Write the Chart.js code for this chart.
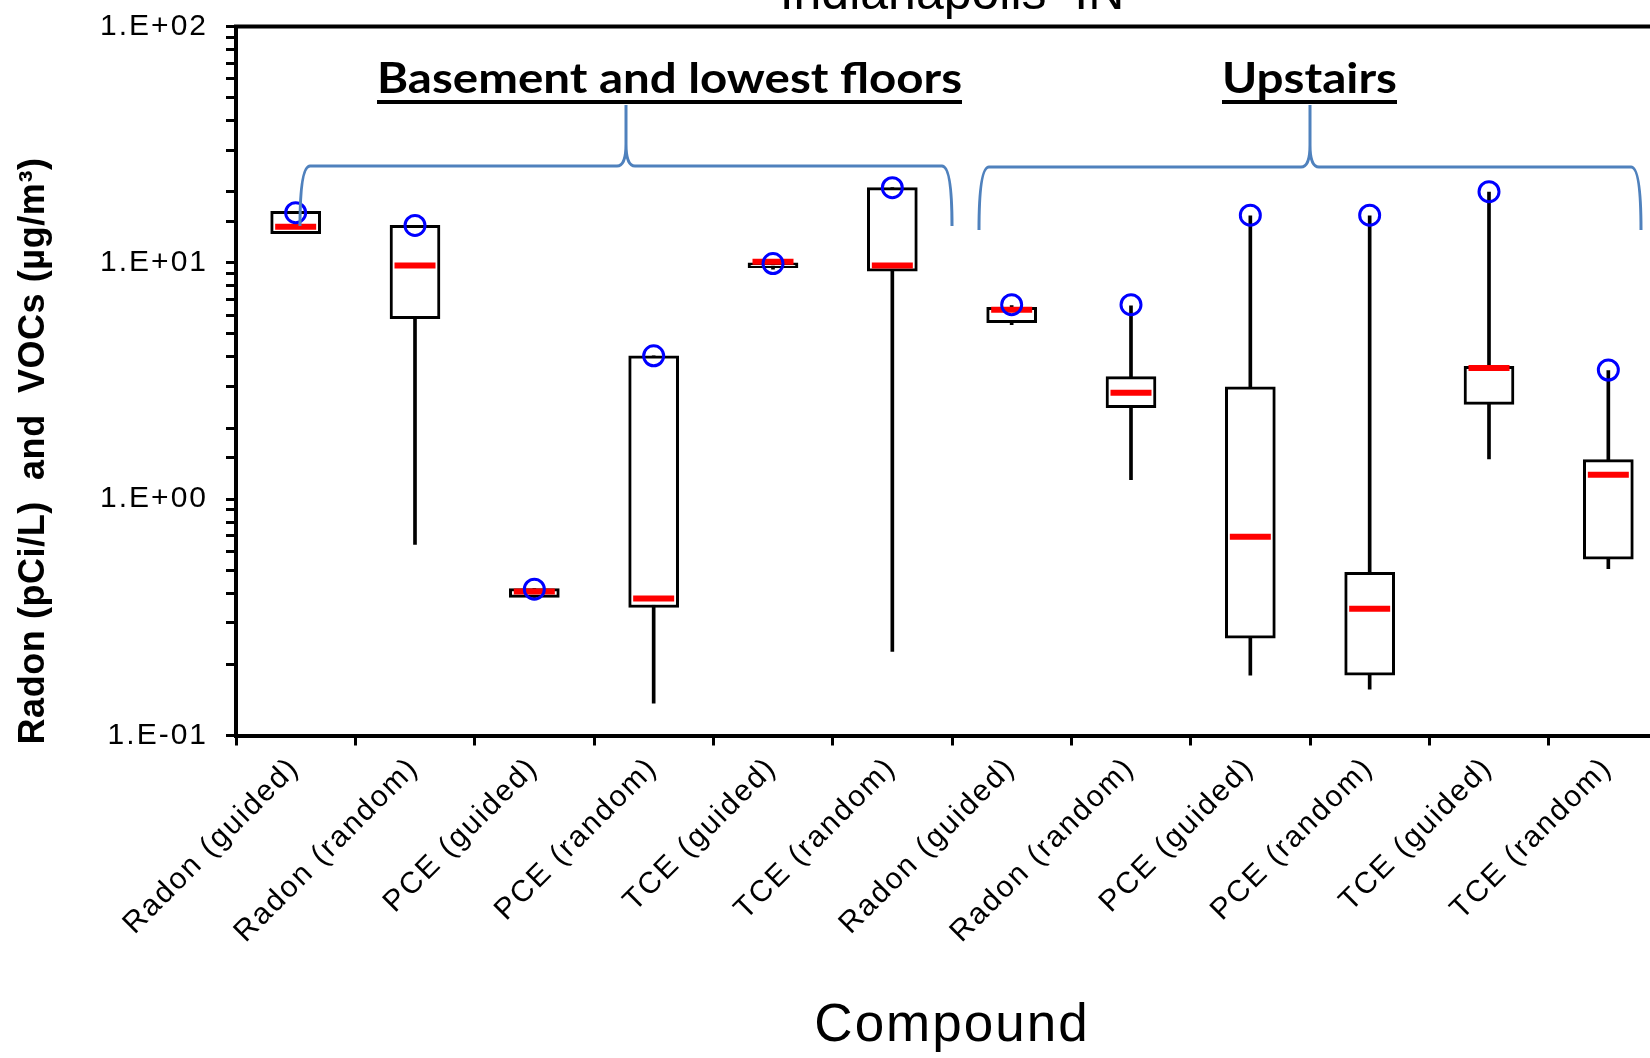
<!DOCTYPE html>
<html>
<head>
<meta charset="utf-8">
<script src="https://cdn.jsdelivr.net/npm/chart.js@4.4.1/dist/chart.umd.min.js"></script>
<style>
  html, body { margin: 0; padding: 0; background: #fff; overflow: hidden; }
  #boxChart { display: block; }
</style>
</head>
<body>
<canvas id="boxChart" width="1700" height="1058"></canvas>
<script>
// categories, basement first then upstairs
const categories = ["Radon (guided)", "Radon (random)", "PCE (guided)", "PCE (random)", "TCE (guided)", "TCE (random)",
                    "Radon (guided)", "Radon (random)", "PCE (guided)", "PCE (random)", "TCE (guided)", "TCE (random)"];

// box = 25th..75th percentile, whiskers = min..max of the rest, circle = max
const boxLow      = [13.3, 5.8, 0.384, 0.348, 9.53, 9.23, 5.58, 2.44, 0.258, 0.180, 2.52, 0.558];
const boxHigh     = [16.5, 14.4, 0.418, 4.04, 10.0, 20.8, 6.48, 3.30, 2.99, 0.490, 3.65, 1.47];
const medians     = [14.2, 9.75, 0.407, 0.38, 10.1, 9.75, 6.33, 2.82, 0.694, 0.344, 3.59, 1.27];
const whiskerLow  = [13.3, 0.643, 0.384, 0.137, 9.4, 0.227, 5.47, 1.21, 0.180, 0.157, 1.48, 0.508];
const whiskerHigh = [16.5, 14.4, 0.418, 4.04, 10.0, 20.8, 6.6, 6.58, 15.8, 15.8, 19.9, 3.5];
const maxValues   = [16.3, 14.4, 0.416, 4.04, 9.93, 20.8, 6.65, 6.65, 15.9, 15.9, 20.0, 3.52];

const yTickLabels = ["1.E-01", "1.E+00", "1.E+01", "1.E+02"];
const groupLabels = ["Basement and lowest floors", "Upstairs"];
const chartTitle = "Indianapolis  IN";
const yTitle = "Radon (pCi/L)  and  VOCs (\u00b5g/m\u00b3)";

const FONT = "'Liberation Sans', Arial, Helvetica, sans-serif";
const braceColor = "rgb(79,129,189)";

function drawBrace(ctx, x1, xm, x2, yH, yEnd, yPeak) {
    ctx.beginPath();
    ctx.moveTo(x1, yEnd);
    ctx.quadraticCurveTo(x1, yH, x1 + 10, yH);
    ctx.lineTo(xm - 9, yH);
    ctx.quadraticCurveTo(xm, yH, xm, yH - 22);
    ctx.lineTo(xm, yPeak);
    ctx.moveTo(xm, yH - 22);
    ctx.quadraticCurveTo(xm, yH, xm + 9, yH);
    ctx.lineTo(x2 - 10, yH);
    ctx.quadraticCurveTo(x2, yH, x2, yEnd);
    ctx.stroke();
}

function heading(ctx, text, cx, baseline, width) {
    ctx.font = "bold 42px Lato, 'Open Sans', sans-serif";
    const w = ctx.measureText(text).width;
    ctx.save();
    ctx.translate(cx, baseline);
    ctx.scale(width / w, 1);
    ctx.textAlign = "center";
    ctx.textBaseline = "alphabetic";
    ctx.fillText(text, 0, 0);
    ctx.restore();
    ctx.fillRect(cx - width / 2, baseline + 7, width, 4);
}

// the source renders axis text slightly spaced out
function spaced(chart) {
    if ("letterSpacing" in chart.ctx) chart.ctx.letterSpacing = "2px";
}

const decor = {
    id: "decor",
    beforeUpdate: spaced,
    beforeDraw: spaced,
    afterDraw(chart) {
        const ctx = chart.ctx;
        const area = chart.chartArea;
        ctx.save();
        if ("letterSpacing" in ctx) ctx.letterSpacing = "0px";
        // top frame line
        ctx.strokeStyle = "#000";
        ctx.lineWidth = 4;
        ctx.beginPath();
        ctx.moveTo(area.left - 2, area.top);
        ctx.lineTo(chart.width, area.top);
        ctx.stroke();

        // braces
        ctx.strokeStyle = braceColor;
        ctx.lineWidth = 3;
        drawBrace(ctx, 300, 626, 952, 166, 226, 105);
        drawBrace(ctx, 979, 1310, 1641, 167, 230, 105);

        // group headings
        ctx.fillStyle = "#000";
        heading(ctx, groupLabels[0], 669.5, 93, 585);
        heading(ctx, groupLabels[1], 1309.5, 93, 175);

        // chart title, mostly cut off at the top
        ctx.font = "50px " + FONT;
        ctx.textAlign = "center";
        ctx.textBaseline = "alphabetic";
        ctx.fillText(chartTitle, (area.left + area.right) / 2, 8.5);

        // y axis title
        ctx.font = "bold 36px " + FONT;
        const w = ctx.measureText(yTitle).width;
        if ("letterSpacing" in ctx) ctx.letterSpacing = Math.max(0, (587 - w) / yTitle.length) + "px";
        ctx.translate(44, 451);
        ctx.rotate(-Math.PI / 2);
        ctx.fillText(yTitle, 0, 0);
        ctx.restore();
    }
};

const ctx = document.getElementById("boxChart");

let boxChart = new Chart(ctx, {
    data: {
        labels: categories,
        datasets: [
            {
                type: "line",
                label: "Maximum",
                data: maxValues,
                showLine: false,
                pointStyle: "circle",
                pointRadius: 10,
                pointHoverRadius: 10,
                pointBorderWidth: 3,
                pointBorderColor: "rgb(0,0,255)",
                pointBackgroundColor: "rgba(0,0,0,0)",
                order: 0,
            },
            {
                type: "line",
                label: "Median",
                data: medians,
                showLine: false,
                pointStyle: "line",
                pointRadius: 20.5,
                pointHoverRadius: 20.5,
                pointBorderWidth: 6,
                pointBorderColor: "rgb(255,0,0)",
                order: 1,
            },
            {
                type: "bar",
                label: "Quartiles",
                data: boxLow.map((v, i) => [v, boxHigh[i]]),
                backgroundColor: "#fff",
                borderColor: "#000",
                borderWidth: 3,
                borderSkipped: false,
                barThickness: 50,
                grouped: false,
                order: 2,
            },
            {
                type: "bar",
                label: "Range",
                data: whiskerLow.map((v, i) => [v, whiskerHigh[i]]),
                backgroundColor: "#000",
                borderWidth: 0,
                barThickness: 3,
                grouped: false,
                order: 3,
            },
        ],
    },
    options: {
        responsive: false,
        animation: false,
        events: [],
        layout: { padding: { top: 23, right: 32, left: 0, bottom: 0 } },
        plugins: {
            legend: { display: false },
            tooltip: { enabled: false },
        },
        scales: {
            x: {
                type: "category",
                offset: true,
                grid: { offset: true, drawOnChartArea: false, tickLength: 10, tickWidth: 3, tickColor: "#000" },
                border: { color: "#000", width: 4 },
                ticks: {
                    minRotation: 45,
                    maxRotation: 45,
                    autoSkip: false,
                    padding: 5,
                    labelOffset: -1,
                    color: "#000",
                    font: { family: FONT, size: 30 },
                },
                title: {
                    display: true,
                    text: "Compound",
                    color: "#000",
                    font: { family: FONT, size: 53 },
                    padding: { top: 0, bottom: 0 },
                },
                afterFit(scale) {
                    scale.height = 322.5;
                    scale.paddingLeft = 0;
                    scale.paddingRight = 0;
                },
            },
            y: {
                type: "logarithmic",
                min: 0.1,
                max: 100,
                grid: { drawOnChartArea: false, tickLength: 10, tickWidth: 3, tickColor: "#000" },
                border: { color: "#000", width: 4 },
                ticks: {
                    autoSkip: false,
                    padding: 18,
                    color: "#000",
                    font: { family: FONT, size: 30 },
                    callback: function (value) {
                        const e = Math.log10(value);
                        if (Math.abs(e - Math.round(e)) > 1e-6) return "";
                        return yTickLabels[Math.round(e) + 1] || "";
                    },
                },
                afterFit(scale) {
                    scale.width = 236;
                    scale.paddingTop = 0;
                    scale.paddingBottom = 0;
                },
            },
        },
    },
    plugins: [decor],
});
</script>
</body>
</html>
